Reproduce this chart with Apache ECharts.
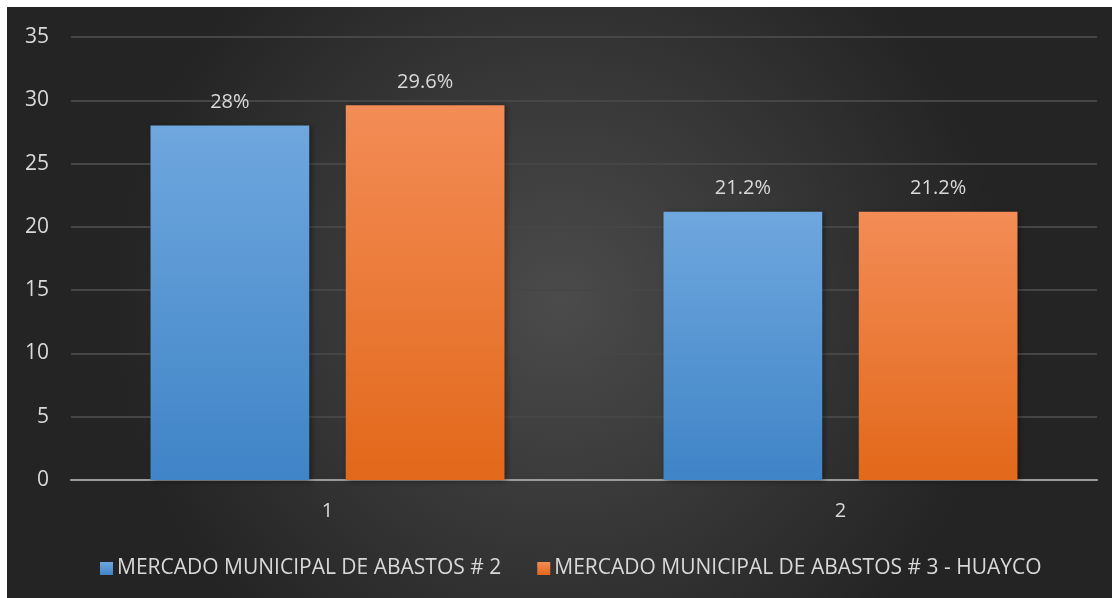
<!DOCTYPE html>
<html>
<head>
<meta charset="utf-8">
<script src="https://cdn.jsdelivr.net/npm/echarts@6/dist/echarts.min.js"></script>
<style>
html,body{margin:0;padding:0;background:#ffffff;width:1112px;height:598px;overflow:hidden;}
#c{position:absolute;left:7px;top:7px;width:1105px;height:591px;}
</style>
</head>
<body>
<div id="c"></div>
<script>
const categories = ['1', '2'];
const seriesNames = ['MERCADO MUNICIPAL DE ABASTOS # 2', 'MERCADO MUNICIPAL DE ABASTOS # 3 - HUAYCO'];
const mercado2 = [28, 21.2];
const mercado3 = [29.6, 21.2];
const yTicks = [0, 5, 10, 15, 20, 25, 30, 35];

const fontFam = '"Open Sans", "Noto Sans", sans-serif';
const chart = echarts.init(document.getElementById('c'));
function grad(top, bottom){
  return new echarts.graphic.LinearGradient(0,0,0,1,[{offset:0,color:top},{offset:1,color:bottom}]);
}
chart.setOption({
  backgroundColor: new echarts.graphic.RadialGradient(0.5,0.5,0.75,[
    {offset:0,color:'#4b4b4b'},{offset:1,color:'#242424'}]),
  textStyle:{fontFamily:fontFam},
  grid:{left:64,right:15,top:30,bottom:118,containLabel:false},
  legend:{
    data:seriesNames,
    left:88, top:546,
    itemWidth:13, itemHeight:13, itemGap:36,
    icon:'rect',
    textStyle:{color:'#d9d9d9',fontSize:21,fontFamily:fontFam,padding:[0,0,0,-1]}
  },
  xAxis:{
    type:'category', data:categories,
    axisLine:{lineStyle:{color:'#9a9a9a',width:2}},
    axisTick:{show:false},
    axisLabel:{color:'#d9d9d9',fontSize:20,margin:21}
  },
  yAxis:{
    type:'value', min:yTicks[0], max:yTicks[yTicks.length-1], interval:5,
    axisLine:{show:false}, axisTick:{show:false},
    axisLabel:{color:'#d9d9d9',fontSize:21,margin:22},
    splitLine:{lineStyle:{color:'#464646',width:2}}
  },
  series:[
    {name:seriesNames[0], type:'bar', data:mercado2,
     barCategoryGap:'31%', barGap:'23%',
     itemStyle:{color:grad('#6fa7de','#3f84c7'),shadowBlur:6,shadowColor:'rgba(0,0,0,0.45)',shadowOffsetX:2,shadowOffsetY:1},
     label:{show:true,position:'top',distance:13,color:'#d9d9d9',fontSize:20,formatter:p=>p.value+'%'}},
    {name:seriesNames[1], type:'bar', data:mercado3,
     itemStyle:{color:grad('#f38c56','#e2681a'),shadowBlur:6,shadowColor:'rgba(0,0,0,0.45)',shadowOffsetX:2,shadowOffsetY:1},
     label:{show:true,position:'top',distance:13,color:'#d9d9d9',fontSize:20,formatter:p=>p.value+'%'}}
  ]
});
</script>
</body>
</html>
